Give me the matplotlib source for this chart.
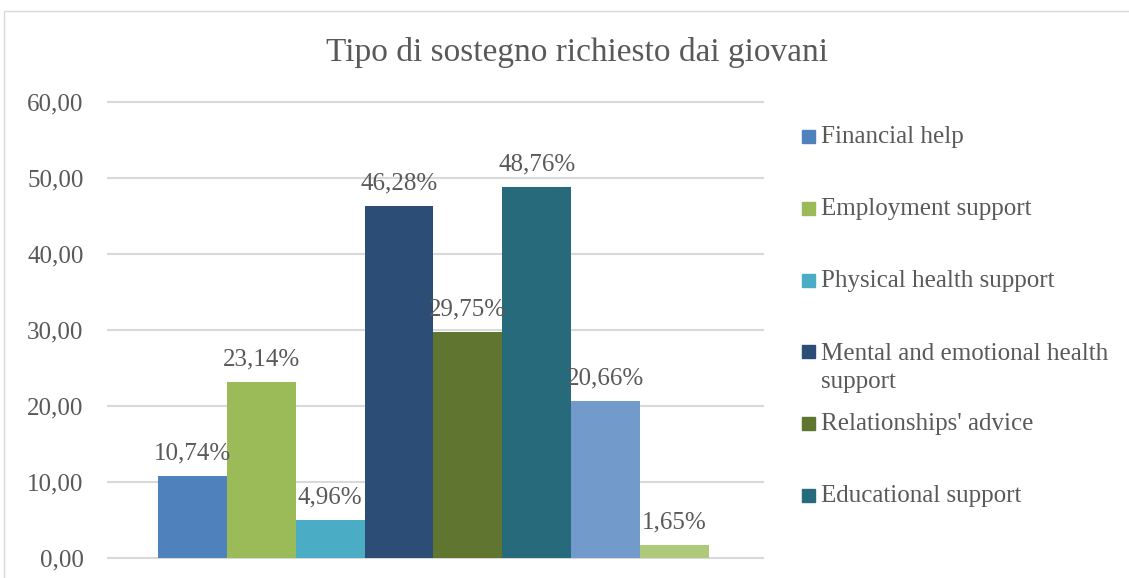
import matplotlib
matplotlib.use("Agg")
import matplotlib.pyplot as plt
from matplotlib.patches import Rectangle

# data
title = "Tipo di sostegno richiesto dai giovani"
values = [10.74, 23.14, 4.96, 46.28, 29.75, 48.76, 20.66, 1.65]
bar_labels = ["10,74%", "23,14%", "4,96%", "46,28%", "29,75%", "48,76%", "20,66%", "1,65%"]
colors = ["#4F81BD", "#9BBB59", "#4BACC6", "#2C4D75",
          "#5F7530", "#276A7C", "#729ACA", "#AFC97A"]
# only the first six legend entries are visible in the picture
legend_labels = ["Financial help", "Employment support", "Physical health support",
                 "Mental and emotional health\nsupport", "Relationships' advice",
                 "Educational support"]
yticks = [0, 10, 20, 30, 40, 50, 60]
ytick_labels = ["0,00", "10,00", "20,00", "30,00", "40,00", "50,00", "60,00"]

W, H = 1129, 578
TXT = "#595959"
GRID = "#D9D9D9"
FS = 18
plt.rcParams["font.family"] = ["Liberation Serif", "DejaVu Serif"]

fig = plt.figure(figsize=(W / 100, H / 100), dpi=100)

# axes placed so that 0 sits at y=558px and 60 at y=102px
pad = 0.5
ppu = (558 - 102) / 60.0
ax_top = 102 - pad * ppu
ax_bot = 558 + pad * ppu
ax = fig.add_axes([107 / W, 1 - ax_bot / H, (764 - 107) / W, (ax_bot - ax_top) / H])

xs = list(range(len(values)))
ax.bar(xs, values, width=1.0, color=colors, edgecolor="none", zorder=2)
for x, v, lab in zip(xs, values, bar_labels):
    ax.annotate(lab, (x, v), xytext=(0, 12.2), textcoords="offset points",
                ha="center", va="baseline", fontsize=FS, color=TXT, zorder=5,
                annotation_clip=False)

ax.set_xlim(-0.5 - 0.74, len(values) - 0.5 + 0.8)
ax.set_ylim(-pad, 60 + pad)
ax.set_yticks(yticks)
ax.set_yticklabels(ytick_labels)
ax.set_xticks([])
ax.tick_params(axis="y", length=0, pad=17, labelsize=FS, labelcolor=TXT)
ax.yaxis.grid(True, color=GRID, linewidth=1.5)
ax.set_axisbelow(True)
for s in ax.spines.values():
    s.set_visible(False)

fig.text(577.5 / W, 1 - 61 / H, title, ha="center", va="baseline",
         fontsize=24, color=TXT)

# legend, entries spaced evenly like Excel does; wrapped labels hang down
line_px = 30
for i, (lab, col) in enumerate(zip(legend_labels, colors)):
    base = 143 + 71.8 * i
    fig.add_artist(Rectangle((802 / W, 1 - base / H), 13 / W, 13 / H,
                             transform=fig.transFigure, color=col))
    last_base = base + line_px * lab.count("\n")
    fig.text(821 / W, 1 - last_base / H, lab, ha="left", va="baseline",
             fontsize=FS, color=TXT, linespacing=1.4)

# chart frame (cut off on the right and bottom)
fig.add_artist(Rectangle((4 / W, -0.1), 2.0, 1 - 11 / H + 0.1,
                         transform=fig.transFigure, fill=False,
                         edgecolor=GRID, linewidth=1))

fig.savefig("out.png", dpi=100)
